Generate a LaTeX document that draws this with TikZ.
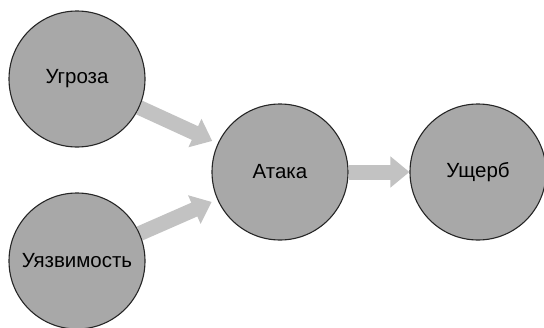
\documentclass[tikz,border=0pt]{standalone}
\usepackage{fontspec}
\setmainfont{Liberation Sans}
\usetikzlibrary{arrows.meta,backgrounds}

\tikzset{
  riskcircle/.style={circle, draw=black!85, line width=1.1pt, fill=gray!68,
    minimum size=136pt, inner sep=0pt, font=\fontsize{20.5}{24}\selectfont},
  blockarrow/.style={draw=gray!48, line width=15pt,
    -{Triangle[width=30pt,length=19pt,fill=gray!48]}}
}

\begin{document}
\begin{tikzpicture}[x=1pt,y=-1pt]

  \useasboundingbox (0,0) rectangle (544,327);

  \def\ya{172}

  \node[riskcircle] (ugroza) at (77,79) {Угроза};
  \node[riskcircle] (uyazv) at (77,261) {Уязвимость};
  \node[riskcircle] (ataka) at (280,\ya) {Атака};
  \node[riskcircle] (usherb) at (478,\ya) {Ущерб};

  \begin{scope}[on background layer]
    \draw[blockarrow, shorten >=6pt] (ugroza) -- (ataka);
    \draw[blockarrow, shorten >=6pt] (uyazv) -- (ataka);
    \draw[blockarrow] (ataka) -- (usherb);
  \end{scope}

\end{tikzpicture}
\end{document}
